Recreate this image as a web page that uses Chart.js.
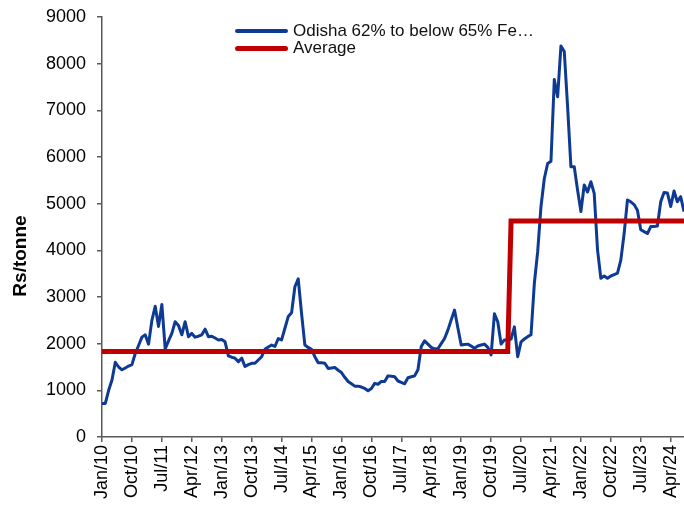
<!DOCTYPE html>
<html>
<head>
<meta charset="utf-8">
<script src="https://cdn.jsdelivr.net/npm/chart.js@4.4.1/dist/chart.umd.min.js"></script>
<style>
  html, body { margin: 0; padding: 0; background: #fff; }
  #wrap { position: relative; width: 684px; height: 508px; overflow: hidden; }
  #legend { position: absolute; left: 235px; top: 22px; font: 17px "Liberation Sans", Arial, sans-serif; color: #111; }
  .row { display: flex; align-items: center; height: 17.6px; white-space: nowrap; }
  .swatch { width: 53px; border-radius: 3px; margin-right: 5px; }
</style>
</head>
<body>
<div id="wrap">
  <canvas id="chart" width="684" height="508"></canvas>
  <div id="legend"></div>
</div>
<script>
// monthly price, Jan/10 .. Aug/24 (Rs/tonne)
var odishaPrice = [
  720, 720, 1000, 1220, 1600, 1500, 1440, 1480, 1520, 1550, 1790, 1960,   // 2010
  2140, 2190, 1990, 2500, 2800, 2370, 2840, 1890, 2060, 2220, 2470, 2390, // 2011
  2190, 2470, 2150, 2220, 2140, 2160, 2190, 2310, 2150, 2160, 2120, 2080, // 2012
  2090, 2040, 1740, 1710, 1690, 1610, 1690, 1510, 1550, 1580, 1580, 1650, // 2013
  1720, 1880, 1930, 1970, 1940, 2110, 2080, 2330, 2580, 2660, 3220, 3390, // 2014
  2650, 1970, 1920, 1880, 1720, 1590, 1590, 1580, 1470, 1480, 1490, 1430, // 2015
  1380, 1280, 1190, 1140, 1090, 1090, 1070, 1040, 990, 1040, 1150, 1130,  // 2016
  1190, 1190, 1310, 1300, 1290, 1200, 1170, 1140, 1270, 1290, 1310, 1440, // 2017
  1940, 2060, 1990, 1920, 1890, 1890, 2000, 2110, 2290, 2510, 2720, 2340, // 2018
  1970, 1980, 1990, 1950, 1900, 1950, 1970, 1990, 1920, 1760, 2640, 2470, // 2019
  1990, 2080, 2080, 2100, 2360, 1720, 2040, 2100, 2150, 2190, 3290, 3970, // 2020
  4940, 5540, 5860, 5910, 7660, 7290, 8380, 8260, 7080, 5790, 5790, 5290, // 2021
  4830, 5400, 5250, 5470, 5220, 4010, 3400, 3450, 3400, 3450, 3480, 3510, // 2022
  3790, 4360, 5080, 5040, 4980, 4860, 4440, 4400, 4360, 4510, 4510, 4520, // 2023
  5040, 5240, 5230, 4940, 5270, 5040, 5150, 4830                          // 2024
];

// period averages (step line)
var avgLabels = ['Jan/10', 'Mar/20', 'Apr/20', 'Aug/24'];
var avgValues = [1830, 1830, 4630, 4630];

var monthNames = ['Jan','Feb','Mar','Apr','May','Jun','Jul','Aug','Sep','Oct','Nov','Dec'];
var startYear = 2010;
var yTicks = [0, 1000, 2000, 3000, 4000, 5000, 6000, 7000, 8000, 9000];
var seriesName = 'Odisha 62% to below 65% Fe\u2026';
var avgName = 'Average';
var yTitle = 'Rs/tonne';

var categories = odishaPrice.map(function(d, i) {
  var yy = (startYear + Math.floor(i / 12)) % 100;
  return monthNames[i % 12] + '/' + (yy < 10 ? '0' : '') + yy;
});

var blue = '#0E3A94';
var red = '#C00000';
var axisColor = '#595959';
var fontFamily = '"Liberation Sans", Arial, sans-serif';

// legend as html, sitting inside the plot
var legend = document.getElementById('legend');
[[seriesName, blue, 4], [avgName, red, 5]].forEach(function(item) {
  var row = document.createElement('div');
  row.className = 'row';
  var sw = document.createElement('span');
  sw.className = 'swatch';
  sw.style.height = item[2] + 'px';
  sw.style.background = item[1];
  row.appendChild(sw);
  row.appendChild(document.createTextNode(item[0]));
  legend.appendChild(row);
});

var yTitlePlugin = {
  id: 'yTitle',
  afterDraw: function(chart) {
    var c = chart.ctx;
    c.save();
    c.translate(21, 256);
    c.rotate(-Math.PI / 2);
    c.font = 'bold 19px ' + fontFamily;
    c.fillStyle = '#000';
    c.textAlign = 'center';
    c.textBaseline = 'middle';
    c.fillText(yTitle, 0, 0);
    c.restore();
  }
};

var chart = new Chart('chart', {
  type: 'line',
  data: {
    labels: categories,
    datasets: [
      {
        label: seriesName,
        data: odishaPrice,
        borderColor: blue,
        borderWidth: 3,
        pointRadius: 0,
        tension: 0,
        borderJoinStyle: 'round',
        order: 2
      },
      {
        label: avgName,
        data: avgLabels.map(function(l, i) { return {x: l, y: avgValues[i]}; }),
        borderColor: red,
        borderWidth: 5,
        pointRadius: 0,
        tension: 0,
        borderJoinStyle: 'miter',
        order: 1
      }
    ]
  },
  options: {
    responsive: false,
    animation: false,
    devicePixelRatio: 1,
    layout: { padding: { top: 17, right: 0, bottom: 0, left: 0 } },
    plugins: {
      legend: { display: false },
      tooltip: { enabled: false }
    },
    scales: {
      x: {
        type: 'category',
        offset: false,
        border: { display: true, color: axisColor, width: 1.5 },
        grid: {
          drawOnChartArea: false,
          drawTicks: true,
          tickLength: 5,
          lineWidth: 1.5,
          color: function(ctx) { return ctx.index % 9 === 0 ? axisColor : 'rgba(0,0,0,0)'; }
        },
        ticks: {
          autoSkip: false,
          minRotation: 90,
          maxRotation: 90,
          padding: 3,
          color: '#000',
          font: { size: 18, family: fontFamily },
          callback: function(v, i) { return i % 9 === 0 ? this.getLabelForValue(v) : ''; }
        },
        afterFit: function(s) { s.height = 71; s.paddingLeft = 0; s.paddingRight = 0; }
      },
      y: {
        min: 0,
        max: 9000,
        afterBuildTicks: function(s) { s.ticks = yTicks.map(function(v) { return {value: v}; }); },
        border: { display: true, color: axisColor, width: 1.5 },
        grid: { drawOnChartArea: false, drawTicks: true, tickLength: 5, lineWidth: 1.5, color: axisColor },
        ticks: {
          padding: 11,
          color: '#000',
          font: { size: 18, family: fontFamily },
          callback: function(v) { return String(v); }
        },
        afterFit: function(s) { s.width = 102; s.paddingTop = 0; s.paddingBottom = 0; }
      }
    }
  },
  plugins: [yTitlePlugin]
});
</script>
</body>
</html>
